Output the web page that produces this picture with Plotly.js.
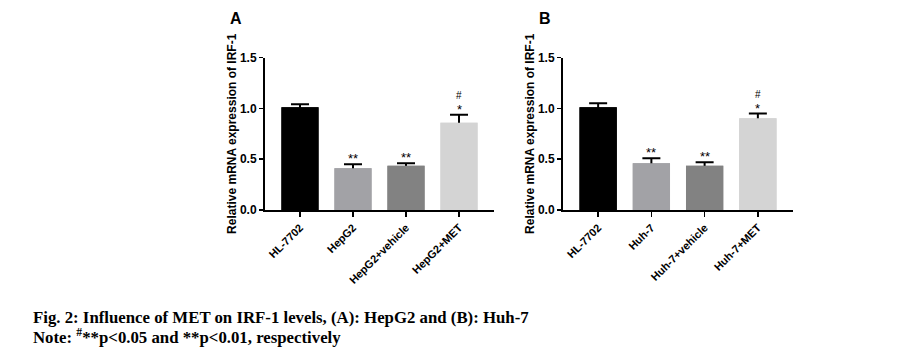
<!DOCTYPE html>
<html><head><meta charset="utf-8">
<script src="https://cdn.plot.ly/plotly-3.0.1.min.js"></script>
<style>html,body{margin:0;padding:0;background:#fff}#c{width:900px;height:358px}</style>
</head><body><div id="c"></div>
<script>
const catsA = ["HL-7702", "HepG2", "HepG2+vehicle", "HepG2+MET"];
const valsA = [1.01, 0.41, 0.435, 0.857];
const errA = [0.03, 0.04, 0.025, 0.08];
const starA = ["", "**", "**", "*"];
const hashA = ["", "", "", "#"];

const catsB = ["HL-7702", "Huh-7", "Huh-7+vehicle", "Huh-7+MET"];
const valsB = [1.01, 0.46, 0.435, 0.903];
const errB = [0.04, 0.05, 0.035, 0.045];
const starB = ["", "**", "**", "*"];
const hashB = ["", "", "", "#"];

const barColors = ["#000000", "#a2a2a6", "#828282", "#d4d4d4"];
const yTicks = [0, 0.5, 1.0, 1.5];
const yTickText = ["0.0", "0.5", "1.0", "1.5"];
const yTitle = "Relative mRNA expression of IRF-1";

// error bars drawn on an underlying copy of the bars, so the bars on top hide the lower half
function errTrace(cats, vals, errs, xa, ya) {
  return {
    type: "bar", x: cats, y: vals, xaxis: xa, yaxis: ya, width: 0.7,
    marker: {color: barColors, line: {width: 0}},
    error_y: {type: "data", array: errs, color: "#000", thickness: 2, width: 9},
    showlegend: false, hoverinfo: "skip"
  };
}
function barTrace(cats, vals, xa, ya) {
  return {
    type: "bar", x: cats, y: vals, xaxis: xa, yaxis: ya, width: 0.7,
    marker: {color: barColors, line: {width: 0}},
    showlegend: false, hoverinfo: "skip"
  };
}

const annotations = [];
function addMarks(cats, vals, errs, stars, hashes, xr, yr) {
  cats.forEach((c, i) => {
    if (stars[i]) annotations.push({xref: xr, yref: yr, x: c, y: vals[i] + errs[i], text: stars[i],
      showarrow: false, yanchor: "bottom", yshift: -4, font: {family: "Arial", size: 13, color: "#000"}});
    if (hashes[i]) annotations.push({xref: xr, yref: yr, x: c, y: vals[i] + errs[i], text: hashes[i],
      showarrow: false, yanchor: "bottom", yshift: 12, font: {family: "Arial", size: 10, color: "#000"}});
  });
}
addMarks(catsA, valsA, errA, starA, hashA, "x", "y");
addMarks(catsB, valsB, errB, starB, hashB, "x2", "y2");

annotations.push({xref: "paper", yref: "paper", x: 228/900, y: 1 - 18/358, text: "<b>A</b>", showarrow: false,
  xanchor: "left", yanchor: "middle", font: {family: "Arial", size: 16, color: "#000"}});
annotations.push({xref: "paper", yref: "paper", x: 537/900, y: 1 - 18/358, text: "<b>B</b>", showarrow: false,
  xanchor: "left", yanchor: "middle", font: {family: "Arial", size: 16, color: "#000"}});
annotations.push({xref: "paper", yref: "paper", x: 31/900, y: 1 - 317/358, text: "<b>Fig. 2: Influence of MET on IRF-1 levels, (A): HepG2 and (B): Huh-7</b>", showarrow: false,
  xanchor: "left", yanchor: "middle", font: {family: "Liberation Serif", size: 16.8, color: "#000"}});
annotations.push({xref: "paper", yref: "paper", x: 31/900, y: 1 - 336/358, text: "<b>Note: <sup>#</sup>**p&lt;0.05 and **p&lt;0.01, respectively</b>", showarrow: false,
  xanchor: "left", yanchor: "middle", font: {family: "Liberation Serif", size: 16.8, color: "#000"}});

const yDom = [1 - 210/358, 1 - 57.5/358];
function xaxis(dom, anchor) {
  return {domain: dom, anchor: anchor, range: [-0.66, 3.66], showline: true, linecolor: "#000", linewidth: 2,
    ticks: "outside", ticklen: 5, tickwidth: 1.5, tickcolor: "#000", tickangle: -45,
    tickfont: {family: "Arial", size: 11, color: "#000", weight: "bold"}, showgrid: false, zeroline: false, fixedrange: true};
}
function yaxis(anchor) {
  return {domain: yDom, anchor: anchor, range: [0, 1.5], tickvals: yTicks, ticktext: yTickText,
    showline: true, linecolor: "#000", linewidth: 2, ticks: "outside", ticklen: 4, tickwidth: 1.5, tickcolor: "#000",
    tickfont: {family: "Arial", size: 12, color: "#000", weight: "bold"}, showgrid: false, zeroline: false,
    title: {text: "<b>" + yTitle + "</b>", font: {family: "Arial", size: 12, color: "#000"}, standoff: 1}, fixedrange: true};
}

const layout = {
  width: 900, height: 358, margin: {l: 0, r: 0, t: 0, b: 0},
  paper_bgcolor: "#fff", plot_bgcolor: "rgba(0,0,0,0)",
  barmode: "overlay",
  xaxis: xaxis([265/900, 494/900], "y"),
  yaxis: yaxis("x"),
  xaxis2: xaxis([563/900, 793/900], "y2"),
  yaxis2: yaxis("x2"),
  annotations: annotations
};

Plotly.newPlot("c", [
  errTrace(catsA, valsA, errA, "x", "y"), barTrace(catsA, valsA, "x", "y"),
  errTrace(catsB, valsB, errB, "x2", "y2"), barTrace(catsB, valsB, "x2", "y2")
], layout, {displayModeBar: false, staticPlot: true});
</script></body></html>
